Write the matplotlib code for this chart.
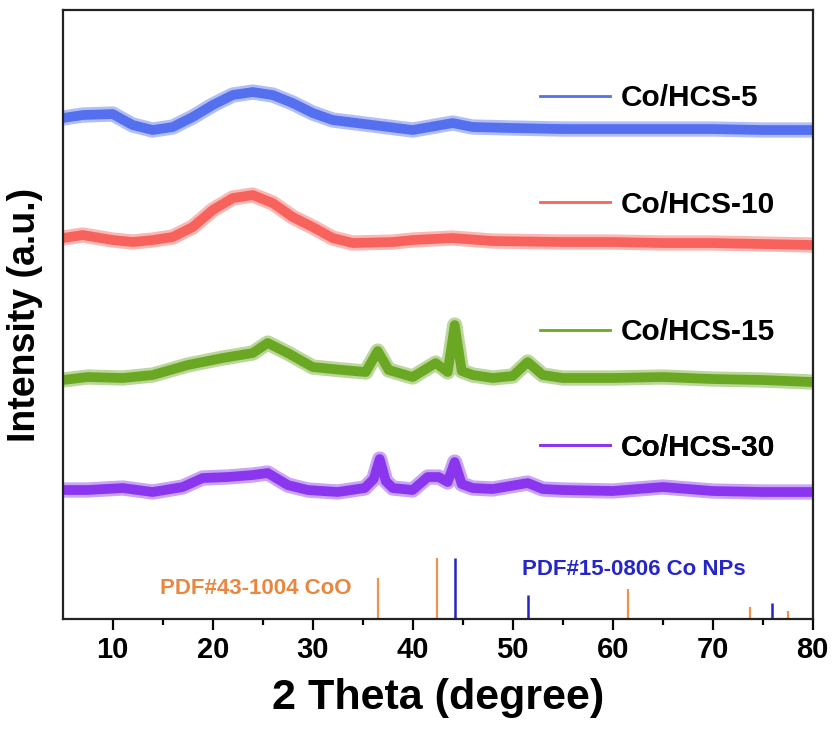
import matplotlib
matplotlib.use("Agg")
import matplotlib.pyplot as plt
from matplotlib.lines import Line2D

plt.rcParams['font.family'] = ['Liberation Sans', 'DejaVu Sans']
plt.rcParams['font.weight'] = 'bold'

# XRD patterns (offset in arbitrary units), 2-theta in degrees
hcs5_x = [5, 7, 10, 12, 14, 16, 18, 20, 22, 24, 26, 28, 30, 32, 36, 40, 44, 46, 50, 55, 60, 65, 70, 75, 80]
hcs5_y = [501, 504, 505, 494, 489, 492, 502, 514, 524, 527, 524, 516, 506, 499, 494, 489, 496, 492, 491, 490, 490, 490, 490, 489, 489]

hcs10_x = [5, 7, 10, 12, 14, 16, 18, 20, 22, 24, 26, 28, 30, 32, 34, 38, 40, 44, 48, 55, 60, 65, 70, 75, 80]
hcs10_y = [381, 384, 379, 377, 379, 382, 392, 409, 421, 424, 416, 402, 392, 381, 376, 377, 379, 381, 378, 377, 377, 376, 376, 375, 374]

hcs15_x = [5, 7.5, 11, 14, 17.5, 21, 24, 25.5, 27.5, 30, 33, 35.3, 36.5, 37.6, 40, 42.3, 43.5,
           44.2, 44.9, 46, 48, 50, 51.5, 53, 55, 60, 65, 70, 75, 80]
hcs15_y = [239, 242, 241, 244, 254, 261, 266, 276, 266, 252, 249, 247, 268, 249, 242, 256, 247,
           294, 248, 244, 241, 243, 257, 244, 241, 241, 242, 240, 239, 237]

hcs30_x = [5, 7.5, 11, 14, 17, 19, 21.5, 24, 25.5, 27.5, 29.5, 32.5, 35.2, 36.1, 36.7, 37.3, 38, 40,
           41.5, 42.6, 43.5, 44.2, 44.9, 46, 48, 51.5, 53, 55, 60, 65, 70, 75, 80]
hcs30_y = [129, 129, 131, 127, 132, 141, 142, 144, 146, 134, 129, 127, 131, 140, 160, 138, 131, 129,
           142, 142, 137, 157, 135, 131, 130, 136, 130, 129, 128, 132, 128, 127, 127]

# standard reference patterns (stick positions and heights)
coo_pos = [36.5, 42.4, 61.5, 73.7, 77.5]
coo_h = [41, 61, 30, 12, 8]
co_pos = [44.2, 51.5, 75.9]
co_h = [61, 24, 16]

labels = ['Co/HCS-5', 'Co/HCS-10', 'Co/HCS-15', 'Co/HCS-30']
colors = ['#5470ee', '#f7625c', '#6aa823', '#8a36ee']
legend_y = [0.855, 0.680, 0.471, 0.281]

fig = plt.figure(figsize=(8.37, 7.33), dpi=100)
ax = fig.add_axes([0.0749, 0.1555, 0.8961, 0.8308])

series = [(hcs5_x, hcs5_y), (hcs10_x, hcs10_y), (hcs15_x, hcs15_y), (hcs30_x, hcs30_y)]
for (xs, ys), c in zip(series, colors):
    ax.plot(xs, ys, color=c, lw=11, alpha=0.45, solid_joinstyle='round', solid_capstyle='butt')
    ax.plot(xs, ys, color=c, lw=7, solid_joinstyle='round', solid_capstyle='butt')

ax.vlines(coo_pos, 0, coo_h, color='#f0924a', lw=1.6)
ax.vlines(co_pos, 0, co_h, color='#2424c4', lw=1.8)

ax.text(14.7, 31, 'PDF#43-1004 CoO', color='#e8873f', fontsize=16, fontweight='bold', va='center')
ax.text(50.9, 50, 'PDF#15-0806 Co NPs', color='#2626c8', fontsize=16, fontweight='bold', va='center')

for lab, c, ly in zip(labels, colors, legend_y):
    h = Line2D([], [], color=c, lw=2)
    lg = ax.legend(handles=[h], labels=[lab], loc='center left', bbox_to_anchor=(0.636, ly),
                   frameon=False, handlelength=2.35, handletextpad=0.35,
                   borderpad=0, borderaxespad=0, prop={'weight': 'bold', 'size': 21.5})
    ax.add_artist(lg)

ax.set_xlim(5, 80)
ax.set_ylim(0, 609)
ax.set_xticks([10, 20, 30, 40, 50, 60, 70, 80])
ax.set_xticks([15, 25, 35, 45, 55, 65, 75], minor=True)
ax.set_yticks([])
ax.tick_params(axis='x', which='major', direction='out', length=8, width=1.6, labelsize=21, pad=4)
ax.tick_params(axis='x', which='minor', direction='out', length=4.5, width=1.6)
for lbl in ax.get_xticklabels():
    lbl.set_fontweight('bold')
for sp in ax.spines.values():
    sp.set_linewidth(1.6)
    sp.set_color('#222222')

ax.set_xlabel('2 Theta (degree)', fontsize=31, fontweight='bold', labelpad=10)
ax.set_ylabel('Intensity (a.u.)', fontsize=27, fontweight='bold', labelpad=14)

fig.savefig('out.png', dpi=100)
